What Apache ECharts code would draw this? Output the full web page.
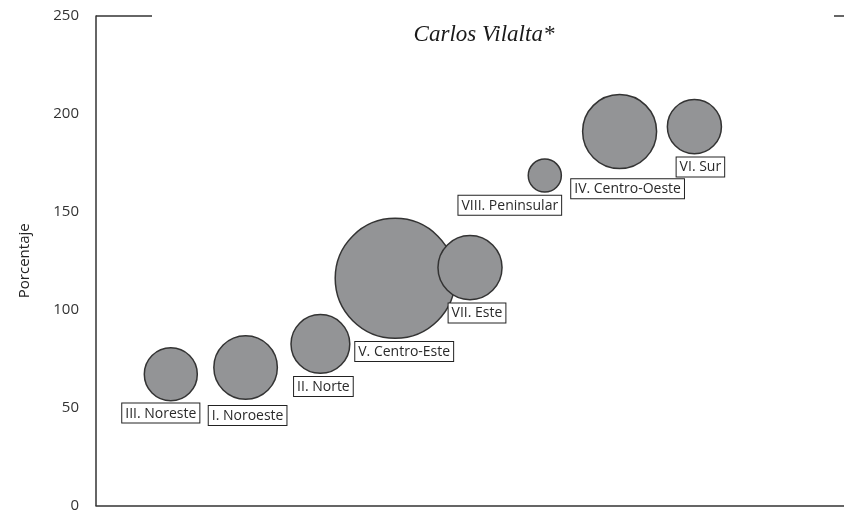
<!DOCTYPE html>
<html lang="es">
<head>
    <meta charset="UTF-8">
    <title>Carlos Vilalta</title>
    <script src="https://cdn.jsdelivr.net/npm/echarts@6/dist/echarts.min.js"></script>
    <style>
        html, body { margin: 0; padding: 0; background: #fff; }
    </style>
</head>
<body>
    <div id="main" style="width: 844px;height:513px;"></div>
</body>

<script>
  // regiones, en el orden del eje x
  const regiones = ['III. Noreste', 'I. Noroeste', 'II. Norte', 'V. Centro-Este', 'VII. Este', 'VIII. Peninsular', 'IV. Centro-Oeste', 'VI. Sur']
  // porcentaje (eje y)
  const porcentaje = [67, 70.5, 82.5, 116, 121.5, 168.5, 191, 193.5]
  // tamaño relativo de la burbuja (área)
  const tamano = [19.5, 28, 24, 100, 28.5, 7.6, 38, 20.3]
  // etiquetas del eje y
  const ticksY = [0, 50, 100, 150, 200, 250]

  // desplazamiento de cada etiqueta respecto a su burbuja
  const desplaz = [[-10, -3], [2, 1], [3, -2], [9, -2], [7, -2], [-35, -2], [8, 5], [6, -2]]

  const myChart = echarts.init(document.getElementById('main'))

  const datos = regiones.map((r, i) => ({
    name: r,
    value: [i + 1, porcentaje[i], tamano[i]],
    label: { offset: desplaz[i] }
  }))

  const option = {
    animation: false,
    title: {
      text: 'Carlos Vilalta*',
      left: 479,
      top: 18,
      textAlign: 'center',
      textStyle: {
        fontFamily: 'Liberation Serif',
        fontStyle: 'italic',
        fontWeight: 'normal',
        fontSize: 23,
        color: '#1a1a1a'
      }
    },
    grid: { left: 96, right: 0, top: 16, bottom: 7 },
    xAxis: {
      type: 'value',
      min: 0,
      max: 10,
      axisLine: { show: true, lineStyle: { color: '#333', width: 1.5 } },
      axisTick: { show: false },
      axisLabel: { show: false },
      splitLine: { show: false }
    },
    yAxis: {
      type: 'value',
      min: ticksY[0],
      max: ticksY[ticksY.length - 1],
      interval: 50,
      name: 'Porcentaje',
      nameLocation: 'middle',
      nameGap: 64,
      nameTextStyle: { fontFamily: 'Open Sans', fontSize: 15, color: '#222' },
      axisLine: { show: true, lineStyle: { color: '#333', width: 1.5 } },
      axisTick: { show: false },
      axisLabel: { fontFamily: 'Open Sans', fontSize: 15, color: '#333', margin: 17 },
      splitLine: { show: false }
    },
    graphic: [
      { type: 'line', shape: { x1: 96, y1: 16, x2: 152, y2: 16 }, style: { stroke: '#333', lineWidth: 1.5 } },
      { type: 'line', shape: { x1: 834, y1: 16, x2: 844, y2: 16 }, style: { stroke: '#333', lineWidth: 1.5 } }
    ],
    series: [
      {
        type: 'scatter',
        data: datos,
        symbolSize: v => 12 * Math.sqrt(v[2]),
        itemStyle: { color: '#939496', borderColor: '#333', borderWidth: 1.5, opacity: 1 },
        label: {
          show: true,
          position: 'bottom',
          distance: 5,
          formatter: '{b}',
          fontFamily: 'Open Sans',
          fontSize: 14,
          color: '#2a2a2a',
          backgroundColor: '#fff',
          borderColor: '#222',
          borderWidth: 1,
          padding: [1, 3, 0, 3],
          lineHeight: 18
        }
      }
    ]
  }

  myChart.setOption(option)
</script>

</html>
